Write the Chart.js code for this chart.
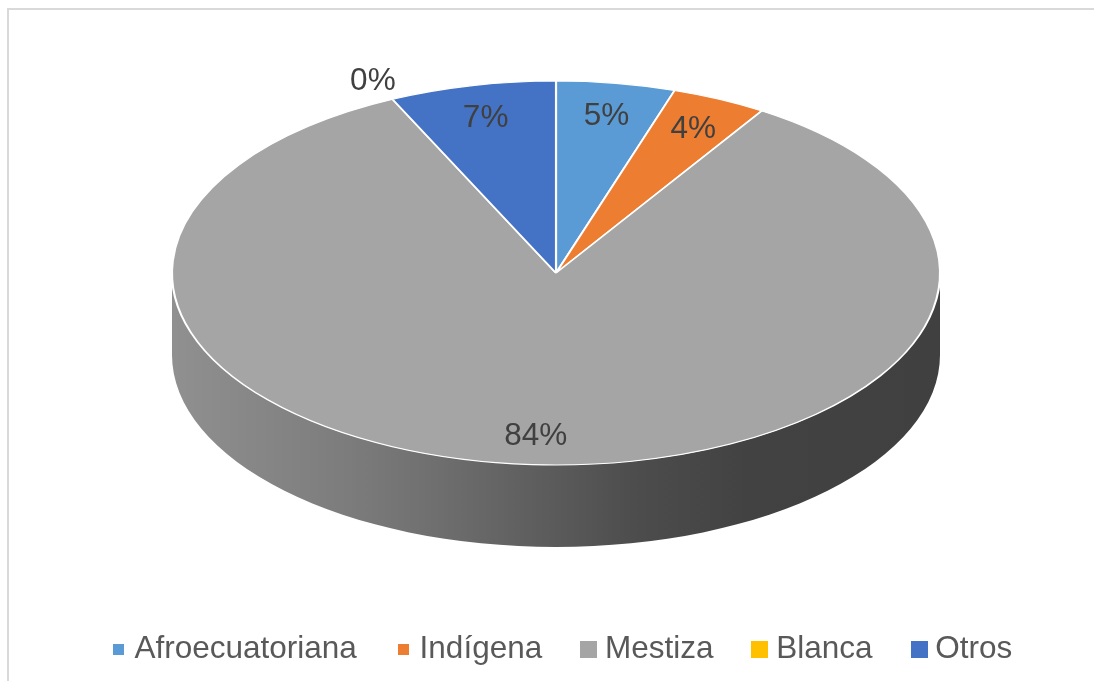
<!DOCTYPE html>
<html>
<head>
<meta charset="utf-8">
<script src="https://cdn.jsdelivr.net/npm/chart.js@4/dist/chart.umd.min.js"></script>
<style>
  html, body { margin: 0; padding: 0; background: #fff; }
  canvas { display: block; }
</style>
</head>
<body>
<canvas id="pie" width="1094" height="681"></canvas>
<script>
// --- Datos ---
const categories = ["Afroecuatoriana", "Indígena", "Mestiza", "Blanca", "Otros"];
const values = [5, 4, 84, 0, 7];
const colors = ["#5B9BD5", "#ED7D31", "#A5A5A5", "#FFC000", "#4472C4"];

// --- Estilo ---
const FONT = "'Liberation Sans', Arial, sans-serif";
const FONT_SIZE = 31.5;
const markerSizes = [11, 11, 17, 17, 17];
const view = { cx: 556, cy: 273, rx: 384, ry: 192, depth: 82 };
const wallShade = [[0, 0.87], [0.23, 0.75], [0.35, 0.667], [0.61, 0.46], [0.75, 0.40], [1, 0.39]];

const total = values.reduce((s, v) => s + v, 0);

function shade(hex, f) {
	const n = parseInt(hex.slice(1), 16);
	const r = Math.round(((n >> 16) & 255) * f), g = Math.round(((n >> 8) & 255) * f), b = Math.round((n & 255) * f);
	return `rgb(${r},${g},${b})`;
}

function marker(i) {
	const c = document.createElement("canvas");
	c.width = c.height = markerSizes[i];
	const x = c.getContext("2d");
	x.fillStyle = colors[i];
	x.fillRect(0, 0, c.width, c.height);
	return c;
}

// pastel 3D: aplasta el pastel y dibuja el borde frontal
const pie3d = {
	id: "pie3d",
	beforeDraw(chart) {
		const ctx = chart.ctx;
		ctx.save();
		ctx.strokeStyle = "#d9d9d9";
		ctx.lineWidth = 2;
		ctx.beginPath();
		ctx.moveTo(8, chart.height);
		ctx.lineTo(8, 9);
		ctx.lineTo(chart.width, 9);
		ctx.stroke();
		ctx.restore();
	},
	beforeDatasetsDraw(chart) {
		const ctx = chart.ctx;
		const arcs = chart.getDatasetMeta(0).data;
		const { cx, cy, rx, ry, depth } = view;

		arcs.forEach((a, i) => {
			const s = Math.max(a.startAngle, 0), e = Math.min(a.endAngle, Math.PI);
			if (e <= s) return;
			const g = ctx.createLinearGradient(cx - rx, 0, cx + rx, 0);
			wallShade.forEach(([p, f]) => g.addColorStop(p, shade(colors[i], f)));
			ctx.save();
			ctx.beginPath();
			ctx.ellipse(cx, cy, rx, ry, 0, s, e, false);
			ctx.lineTo(cx + rx * Math.cos(e), cy + ry * Math.sin(e) + depth);
			ctx.ellipse(cx, cy + depth, rx, ry, 0, e, s, true);
			ctx.closePath();
			ctx.fillStyle = g;
			ctx.fill();
			ctx.restore();
		});

		const a0 = arcs[0];
		const r = a0.outerRadius;
		ctx.save();
		ctx.translate(cx, cy);
		ctx.scale(rx / r, ry / r);
		ctx.translate(-a0.x, -a0.y);
	},
	afterDatasetsDraw(chart) {
		const ctx = chart.ctx;
		ctx.restore();
		const { cx, cy, rx, ry } = view;
		ctx.save();
		ctx.font = `${FONT_SIZE}px ${FONT}`;
		ctx.fillStyle = "#404040";
		ctx.textAlign = "center";
		ctx.textBaseline = "alphabetic";
		const half = FONT_SIZE * 0.716 / 2;
		chart.getDatasetMeta(0).data.forEach((a, i) => {
			const mid = (a.startAngle + a.endAngle) / 2;
			const f = values[i] === 0 ? 1.12 : 0.84;
			const pct = Math.round(values[i] / total * 100) + "%";
			ctx.fillText(pct, cx + rx * f * Math.cos(mid), cy + ry * f * Math.sin(mid) + half);
		});
		ctx.restore();
	}
};

new Chart(document.getElementById("pie"), {
	type: "pie",
	data: {
		labels: categories,
		datasets: [{ data: values, backgroundColor: colors, borderColor: "#ffffff", borderWidth: 1.6, clip: false }]
	},
	options: {
		responsive: false,
		animation: false,
		events: [],
		layout: { padding: { left: 40, right: 4, top: 10, bottom: 6 } },
		plugins: {
			tooltip: { enabled: false },
			legend: {
				position: "bottom",
				labels: {
					usePointStyle: true,
					boxWidth: 1,
					boxHeight: 17,
					padding: 46,
					color: "#595959",
					font: { size: FONT_SIZE, family: FONT },
					generateLabels: () => categories.map((c, i) => ({
						text: c, fillStyle: colors[i], strokeStyle: colors[i], lineWidth: 0,
						fontColor: "#595959", pointStyle: marker(i), hidden: false, index: i
					}))
				}
			}
		}
	},
	plugins: [pie3d]
});
</script>
</body>
</html>
